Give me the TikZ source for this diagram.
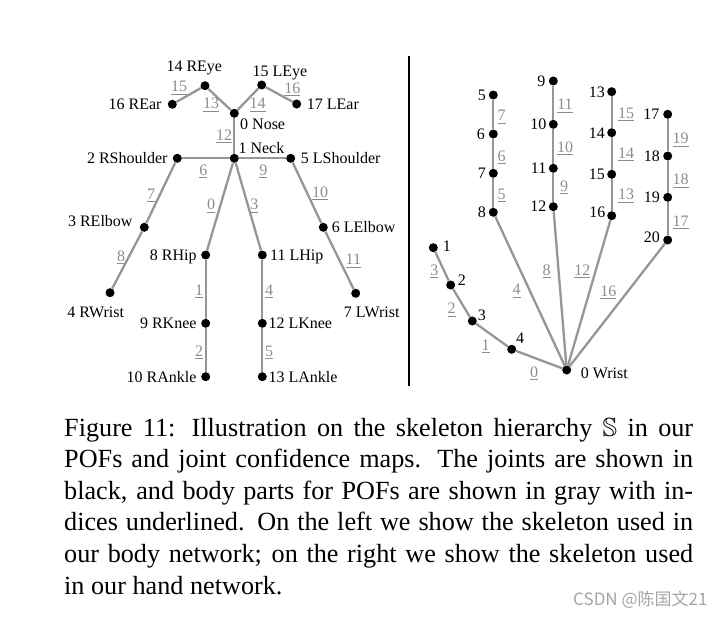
\documentclass[tikz,border=0pt]{standalone}
\usepackage{amssymb}
\usepackage{fontspec}
\setmainfont{Liberation Serif}
\newfontfamily\cjkfont{Noto Sans CJK SC}
\definecolor{bonegray}{RGB}{150,150,150}
\definecolor{labgray}{RGB}{140,140,140}
\definecolor{wmgray}{RGB}{165,165,165}
\tikzset{
  joint/.style={circle, fill=black, inner sep=0pt, minimum size=9pt},
  bone/.style={draw=bonegray, line width=2.3pt},
  lbl/.style={font=\fontsize{16}{18}\selectfont, inner sep=0pt, text height=10.6pt, text depth=0pt},
  elbl/.style={lbl, text=labgray},
  captionline/.style={font=\fontsize{26.2}{31.6}\selectfont, inner sep=0pt, anchor=base west},
}
\begin{document}
\begin{tikzpicture}[x=1pt,y=-1pt]
\useasboundingbox (0,0) rectangle (723,618);
% ---------------- body joints
\node[joint] (b0) at (234.3,113.3) {};
\node[joint] (b1) at (234.3,158.3) {};
\node[joint] (b2) at (177.3,158.3) {};
\node[joint] (b3) at (144.3,227.3) {};
\node[joint] (b4) at (110,292.7) {};
\node[joint] (b5) at (290.7,158.3) {};
\node[joint] (b6) at (323.3,227.3) {};
\node[joint] (b7) at (355.7,293.3) {};
\node[joint] (b8) at (205.7,255) {};
\node[joint] (b9) at (205.7,323.3) {};
\node[joint] (b10) at (205.7,376.7) {};
\node[joint] (b11) at (262.3,255) {};
\node[joint] (b12) at (262.3,323.3) {};
\node[joint] (b13) at (262.3,376.7) {};
\node[joint] (b14) at (205,85.7) {};
\node[joint] (b15) at (261.7,85) {};
\node[joint] (b16) at (172.3,104.3) {};
\node[joint] (b17) at (296.7,104) {};
% body bones
\draw[bone] (b0) -- (b1);
\draw[bone] (b1) -- (b2);
\draw[bone] (b2) -- (b3);
\draw[bone] (b3) -- (b4);
\draw[bone] (b1) -- (b5);
\draw[bone] (b5) -- (b6);
\draw[bone] (b6) -- (b7);
\draw[bone] (b1) -- (b8);
\draw[bone] (b8) -- (b9);
\draw[bone] (b9) -- (b10);
\draw[bone] (b1) -- (b11);
\draw[bone] (b11) -- (b12);
\draw[bone] (b12) -- (b13);
\draw[bone] (b0) -- (b14);
\draw[bone] (b14) -- (b16);
\draw[bone] (b0) -- (b15);
\draw[bone] (b15) -- (b17);
% body labels
\node[lbl] (lb14) at (194.3,65.7) {14 REye};
\node[lbl] (lb15) at (280,71.7) {15 LEye};
\node[lbl, anchor=east] (lb16) at (161.7,104) {16 REar};
\node[lbl, anchor=west] (lb17) at (306.7,104) {17 LEar};
\node[lbl, anchor=west] (lb0) at (240,124) {0 Nose};
\node[lbl, anchor=west] (lb1) at (238.3,148.3) {1 Neck};
\node[lbl, anchor=east] (lb2) at (167.7,158.3) {2 RShoulder};
\node[lbl, anchor=west] (lb5) at (300.7,158.3) {5 LShoulder};
\node[lbl, anchor=east] (lb3) at (132.7,220.7) {3 RElbow};
\node[lbl, anchor=west] (lb6) at (331.7,227.3) {6 LElbow};
\node[lbl, anchor=east] (lb8) at (196.7,255) {8 RHip};
\node[lbl, anchor=west] (lb11) at (270,255) {11 LHip};
\node[lbl] (lb4) at (95.7,312.3) {4 RWrist};
\node[lbl] (lb7) at (371.7,312.3) {7 LWrist};
\node[lbl, anchor=east] (lb9) at (196.7,323.3) {9 RKnee};
\node[lbl, anchor=west] (lb12) at (268.3,323.3) {12 LKnee};
\node[lbl, anchor=east] (lb10) at (196.7,376.7) {10 RAnkle};
\node[lbl, anchor=west] (lb13) at (268.3,376.7) {13 LAnkle};
% body part indices
\node[elbl] (be15) at (179,86.7) {\underline{15}};
\node[elbl] (be13) at (211,103.3) {\underline{13}};
\node[elbl] (be14) at (257.7,103.3) {\underline{14}};
\node[elbl] (be16) at (292.3,87.7) {\underline{16}};
\node[elbl] (be12) at (224,135) {\underline{12}};
\node[elbl] (be6) at (203.3,170) {\underline{6}};
\node[elbl] (be9) at (263.3,170) {\underline{9}};
\node[elbl] (be7) at (151,194) {\underline{7}};
\node[elbl] (be10) at (320,191.7) {\underline{10}};
\node[elbl] (be0) at (211,204.3) {\underline{0}};
\node[elbl] (be3) at (254.3,204.3) {\underline{3}};
\node[elbl] (be8) at (121,256) {\underline{8}};
\node[elbl] (be11) at (353.3,259.3) {\underline{11}};
\node[elbl] (be1) at (199,290) {\underline{1}};
\node[elbl] (be4) at (269,290) {\underline{4}};
\node[elbl] (be2) at (199,350.7) {\underline{2}};
\node[elbl] (be5) at (269,350.7) {\underline{5}};
% ---------------- divider
\coordinate (dtop) at (409,56);
\coordinate (dbot) at (409,386);
\draw[line width=1.3pt] (dtop) -- (dbot);
% ---------------- hand joints
\node[joint] (h0) at (566.7,370) {};
\node[joint] (h1) at (433.3,247.7) {};
\node[joint] (h2) at (450.7,285) {};
\node[joint] (h3) at (472.3,321) {};
\node[joint] (h4) at (511.7,349.3) {};
\node[joint] (h5) at (493.3,95) {};
\node[joint] (h6) at (493.3,134) {};
\node[joint] (h7) at (493.3,173.3) {};
\node[joint] (h8) at (493.3,212.3) {};
\node[joint] (h9) at (553.3,81) {};
\node[joint] (h10) at (553.3,124.3) {};
\node[joint] (h11) at (553.3,168.3) {};
\node[joint] (h12) at (553.3,206.7) {};
\node[joint] (h13) at (611.7,91.7) {};
\node[joint] (h14) at (611.7,132.7) {};
\node[joint] (h15) at (611.7,174.3) {};
\node[joint] (h16) at (611.7,215.7) {};
\node[joint] (h17) at (667.7,114.3) {};
\node[joint] (h18) at (667.7,156) {};
\node[joint] (h19) at (667.7,197.3) {};
\node[joint] (h20) at (667.7,240) {};
% hand bones
\draw[bone] (h0) -- (h4);
\draw[bone] (h4) -- (h3);
\draw[bone] (h3) -- (h2);
\draw[bone] (h2) -- (h1);
\draw[bone] (h0) -- (h8);
\draw[bone] (h8) -- (h7);
\draw[bone] (h7) -- (h6);
\draw[bone] (h6) -- (h5);
\draw[bone] (h0) -- (h12);
\draw[bone] (h12) -- (h11);
\draw[bone] (h11) -- (h10);
\draw[bone] (h10) -- (h9);
\draw[bone] (h0) -- (h16);
\draw[bone] (h16) -- (h15);
\draw[bone] (h15) -- (h14);
\draw[bone] (h14) -- (h13);
\draw[bone] (h0) -- (h20);
\draw[bone] (h20) -- (h19);
\draw[bone] (h19) -- (h18);
\draw[bone] (h18) -- (h17);
% hand labels
\node[lbl, anchor=west] (lh0) at (580.7,372.7) {0 Wrist};
\node[lbl, anchor=west] (lh1) at (442.7,245.7) {1};
\node[lbl, anchor=west] (lh2) at (457.7,280) {2};
\node[lbl, anchor=west] (lh3) at (477.7,315) {3};
\node[lbl, anchor=west] (lh4) at (516,338.3) {4};
\node[lbl, anchor=east] (lh5) at (486,95) {5};
\node[lbl, anchor=east] (lh6) at (485,134) {6};
\node[lbl, anchor=east] (lh7) at (486,173.3) {7};
\node[lbl, anchor=east] (lh8) at (486,211.7) {8};
\node[lbl, anchor=east] (lh9) at (545.5,81) {9};
\node[lbl, anchor=east] (lh10) at (546.5,124.3) {10};
\node[lbl, anchor=east] (lh11) at (546.5,168.3) {11};
\node[lbl, anchor=east] (lh12) at (546.5,205.7) {12};
\node[lbl, anchor=east] (lh13) at (605,91.7) {13};
\node[lbl, anchor=east] (lh14) at (605,132.7) {14};
\node[lbl, anchor=east] (lh15) at (605,174.3) {15};
\node[lbl, anchor=east] (lh16) at (605.5,211.7) {16};
\node[lbl, anchor=east] (lh17) at (659.5,114.3) {17};
\node[lbl, anchor=east] (lh18) at (660,156) {18};
\node[lbl, anchor=east] (lh19) at (660,197.3) {19};
\node[lbl, anchor=east] (lh20) at (660,236.7) {20};
% hand part indices
\node[elbl] (he7) at (501.7,115.7) {\underline{7}};
\node[elbl] (he6) at (501.7,155.7) {\underline{6}};
\node[elbl] (he5) at (501.7,194) {\underline{5}};
\node[elbl] (he11) at (565,104.3) {\underline{11}};
\node[elbl] (he10) at (565,146.7) {\underline{10}};
\node[elbl] (he9) at (564,185.7) {\underline{9}};
\node[elbl] (he15) at (626,112.7) {\underline{15}};
\node[elbl] (he14) at (626,152.7) {\underline{14}};
\node[elbl] (he13) at (626,194.3) {\underline{13}};
\node[elbl] (he19) at (680.7,138.3) {\underline{19}};
\node[elbl] (he18) at (680.7,179.3) {\underline{18}};
\node[elbl] (he17) at (680.7,221) {\underline{17}};
\node[elbl] (he3) at (434.3,270) {\underline{3}};
\node[elbl] (he2) at (451.7,308.3) {\underline{2}};
\node[elbl] (he1) at (485.7,345) {\underline{1}};
\node[elbl] (he0) at (534,371.7) {\underline{0}};
\node[elbl] (he4) at (516.7,289.3) {\underline{4}};
\node[elbl] (he8) at (546.7,270) {\underline{8}};
\node[elbl] (he12) at (582.3,270) {\underline{12}};
\node[elbl] (he16) at (608.3,290.7) {\underline{16}};
% ---------------- caption
\node[captionline] (c1) at (64,436) {\makebox[629pt][s]{Figure 11: Illustration on the skeleton hierarchy $\mathbb{S}$ in our}};
\node[captionline] (c2) at (64,467.6) {\makebox[629pt][s]{POFs and joint confidence maps. The joints are shown in}};
\node[captionline] (c3) at (64,499.2) {\makebox[629pt][s]{black, and body parts for POFs are shown in gray with in-}};
\node[captionline] (c4) at (64,530.8) {\makebox[629pt][s]{dices underlined. On the left we show the skeleton used in}};
\node[captionline] (c5) at (64,562.4) {\makebox[629pt][s]{our body network; on the right we show the skeleton used}};
\node[captionline] (c6) at (64,594) {in our hand network.};
% watermark
\node[font=\cjkfont\fontsize{17}{19}\selectfont, text=wmgray, inner sep=0pt, anchor=base east] (wm) at (707.7,605.5) {CSDN @陈国文21};
\end{tikzpicture}
\end{document}
